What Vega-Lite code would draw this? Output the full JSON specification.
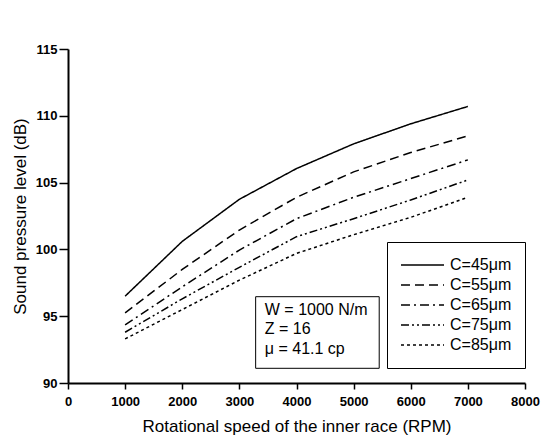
{
  "$schema": "https://vega.github.io/schema/vega-lite/v6.json",
  "width": 457,
  "height": 334,
  "autosize": {"type": "none"},
  "padding": {"left": 68, "top": 49, "right": 25, "bottom": 53},
  "background": "white",
  "config": {
    "view": {"stroke": null},
    "font": "Liberation Sans",
    "axis": {
      "domainColor": "black",
      "domainWidth": 2,
      "tickColor": "black",
      "tickWidth": 1.5,
      "grid": false,
      "labelFont": "Liberation Sans",
      "labelFontWeight": "bold",
      "labelFontSize": 13,
      "labelColor": "black",
      "titleFont": "Liberation Sans",
      "titleFontWeight": "normal",
      "titleFontSize": 17,
      "titleColor": "black"
    }
  },
  "layer": [
    {
      "data": {
        "values": [
          {"c": "C=45μm", "rpm": 1000, "spl": 96.5},
          {"c": "C=45μm", "rpm": 2000, "spl": 100.6},
          {"c": "C=45μm", "rpm": 3000, "spl": 103.75},
          {"c": "C=45μm", "rpm": 4000, "spl": 106.05},
          {"c": "C=45μm", "rpm": 5000, "spl": 107.9},
          {"c": "C=45μm", "rpm": 6000, "spl": 109.4},
          {"c": "C=45μm", "rpm": 7000, "spl": 110.7},
          {"c": "C=55μm", "rpm": 1000, "spl": 95.25},
          {"c": "C=55μm", "rpm": 2000, "spl": 98.5},
          {"c": "C=55μm", "rpm": 3000, "spl": 101.45},
          {"c": "C=55μm", "rpm": 4000, "spl": 103.9},
          {"c": "C=55μm", "rpm": 5000, "spl": 105.8},
          {"c": "C=55μm", "rpm": 6000, "spl": 107.25},
          {"c": "C=55μm", "rpm": 7000, "spl": 108.5},
          {"c": "C=65μm", "rpm": 1000, "spl": 94.35},
          {"c": "C=65μm", "rpm": 2000, "spl": 97.2},
          {"c": "C=65μm", "rpm": 3000, "spl": 99.95},
          {"c": "C=65μm", "rpm": 4000, "spl": 102.3},
          {"c": "C=65μm", "rpm": 5000, "spl": 103.9},
          {"c": "C=65μm", "rpm": 6000, "spl": 105.3},
          {"c": "C=65μm", "rpm": 7000, "spl": 106.7},
          {"c": "C=75μm", "rpm": 1000, "spl": 93.8},
          {"c": "C=75μm", "rpm": 2000, "spl": 96.3},
          {"c": "C=75μm", "rpm": 3000, "spl": 98.66},
          {"c": "C=75μm", "rpm": 4000, "spl": 100.95},
          {"c": "C=75μm", "rpm": 5000, "spl": 102.3},
          {"c": "C=75μm", "rpm": 6000, "spl": 103.7},
          {"c": "C=75μm", "rpm": 7000, "spl": 105.2},
          {"c": "C=85μm", "rpm": 1000, "spl": 93.3},
          {"c": "C=85μm", "rpm": 2000, "spl": 95.5},
          {"c": "C=85μm", "rpm": 3000, "spl": 97.7},
          {"c": "C=85μm", "rpm": 4000, "spl": 99.7},
          {"c": "C=85μm", "rpm": 5000, "spl": 101.1},
          {"c": "C=85μm", "rpm": 6000, "spl": 102.4},
          {"c": "C=85μm", "rpm": 7000, "spl": 103.9}
        ]
      },
      "mark": {"type": "line", "color": "black", "strokeWidth": 1.5},
      "encoding": {
        "x": {
          "field": "rpm", "type": "quantitative",
          "scale": {"domain": [0, 8000], "nice": false, "zero": false},
          "axis": {
            "title": "Rotational speed of the inner race (RPM)",
            "values": [0, 500, 1000, 1500, 2000, 2500, 3000, 3500, 4000, 4500, 5000, 5500, 6000, 6500, 7000, 7500, 8000],
            "labelExpr": "datum.value % 1000 == 0 ? format(datum.value, 'd') : ''",
            "tickSize": {"condition": {"test": "datum.value % 1000 == 0", "value": 6}, "value": 4},
            "labelPadding": 6,
            "titlePadding": 10,
            "labelFlush": false,
            "labelOverlap": false
          }
        },
        "y": {
          "field": "spl", "type": "quantitative",
          "scale": {"domain": [90, 115], "nice": false, "zero": false},
          "axis": {
            "title": "Sound pressure level (dB)",
            "values": [90, 92.5, 95, 97.5, 100, 102.5, 105, 107.5, 110, 112.5, 115],
            "labelExpr": "datum.value % 5 == 0 ? format(datum.value, 'd') : ''",
            "tickSize": {"condition": {"test": "datum.value % 5 == 0", "value": 9}, "value": 5},
            "labelPadding": 2,
            "titlePadding": 6,
            "labelFlush": false,
            "labelOverlap": false
          }
        },
        "strokeDash": {
          "field": "c", "type": "nominal",
          "scale": {
            "domain": ["C=45μm", "C=55μm", "C=65μm", "C=75μm", "C=85μm"],
            "range": [[1, 0], [9, 5], [9, 4, 2, 4], [8, 3, 2, 3, 2, 3], [3, 3]]
          },
          "legend": {
            "title": null,
            "orient": "none",
            "legendX": 319,
            "legendY": 193,
            "strokeColor": "black",
            "fillColor": "white",
            "padding": 13,
            "symbolType": "stroke",
            "symbolSize": 1850,
            "symbolStrokeWidth": 1.5,
            "symbolStrokeColor": "black",
            "clipHeight": 20,
            "rowPadding": 0,
            "labelFont": "Liberation Sans",
            "labelFontSize": 16,
            "labelColor": "black",
            "labelOffset": 5
          }
        }
      }
    },
    {
      "data": {"values": [{"x1": 3285, "x2": 5448, "y1": 96.46, "y2": 91.1}]},
      "mark": {"type": "rect", "fill": "white", "stroke": "black", "strokeWidth": 1},
      "encoding": {
        "x": {"field": "x1", "type": "quantitative"},
        "x2": {"field": "x2"},
        "y": {"field": "y1", "type": "quantitative"},
        "y2": {"field": "y2"}
      }
    },
    {
      "data": {"values": [{"x": 3445, "y": 95.09, "label": "W = 1000 N/m\nZ = 16\nμ = 41.1 cp"}]},
      "mark": {"type": "text", "align": "left", "baseline": "alphabetic", "fontSize": 16, "font": "Liberation Sans", "color": "black", "lineBreak": "\n", "lineHeight": 19.5},
      "encoding": {
        "x": {"field": "x", "type": "quantitative"},
        "y": {"field": "y", "type": "quantitative"},
        "text": {"field": "label"}
      }
    }
  ]
}
